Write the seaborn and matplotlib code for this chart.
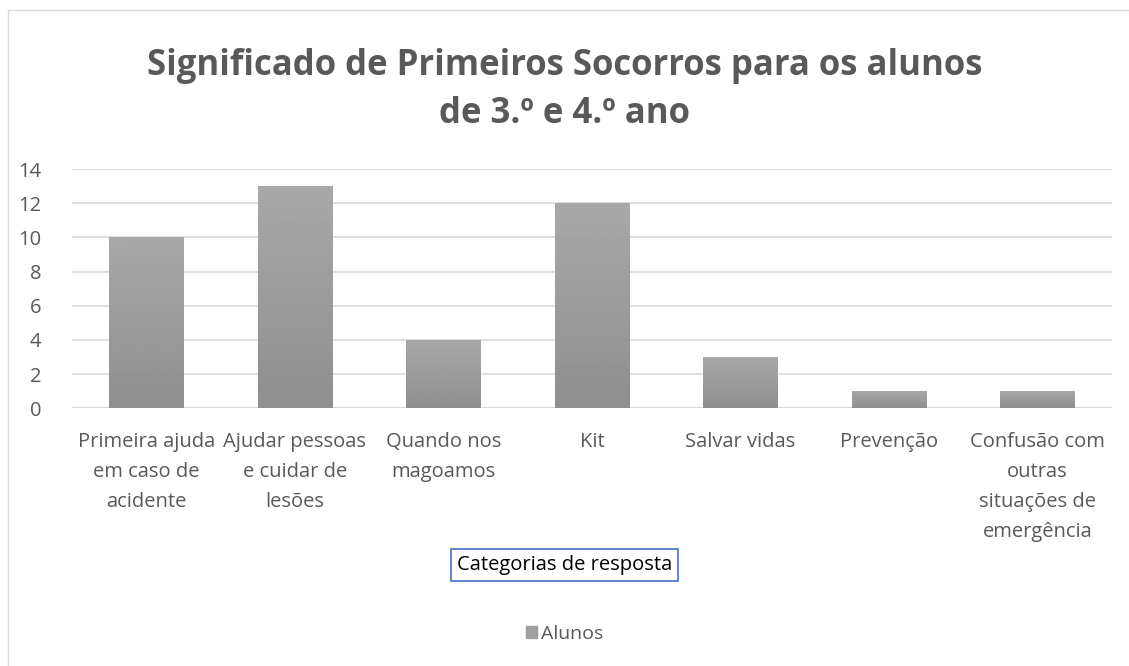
import matplotlib
matplotlib.use('Agg')
import matplotlib.pyplot as plt
from matplotlib.patches import Rectangle, Patch
import seaborn as sns
import numpy as np
import pandas as pd

categorias = ["Primeira ajuda\nem caso de\nacidente", "Ajudar pessoas\ne cuidar de\nlesões",
              "Quando nos\nmagoamos", "Kit", "Salvar vidas", "Prevenção",
              "Confusão com\noutras\nsituações de\nemergência"]
alunos = [10, 13, 4, 12, 3, 1, 1]
titulo = "Significado de Primeiros Socorros para os alunos\nde 3.º e 4.º ano"

df = pd.DataFrame({"cat": categorias, "Alunos": alunos})

sns.set_style("white")
plt.rcParams['font.family'] = ['Open Sans', 'DejaVu Sans']
txt = '#595959'

fig = plt.figure(figsize=(11.29, 6.66), dpi=100)
ax = fig.add_axes([0.0638, 0.387, 0.921, 0.359])

sns.barplot(data=df, x="cat", y="Alunos", color='#a0a0a0', width=0.5, ax=ax,
            edgecolor='none', saturation=1, zorder=3)

# gradient fill like the original (lighter top, darker bottom)
grad = np.linspace(0.66, 0.56, 100).reshape(-1, 1)
for p in ax.patches:
    x0, y0, w, h = p.get_x(), p.get_y(), p.get_width(), p.get_height()
    im = ax.imshow(grad, cmap='gray', vmin=0, vmax=1, aspect='auto',
                   extent=[x0, x0 + w, y0, y0 + h], origin='upper', zorder=4)
    im.set_clip_path(p)

ax.set_xlim(-0.5, len(categorias) - 0.5)
ax.set_ylim(0, 14)
ax.set_yticks(range(0, 15, 2))
ax.yaxis.grid(True, color='#d9d9d9', lw=1.2, zorder=0)
for s in ax.spines.values():
    s.set_visible(False)
ax.axhline(0, color='#d9d9d9', lw=1.2, zorder=1)
ax.tick_params(axis='both', length=0, labelsize=14.5, labelcolor=txt)
ax.tick_params(axis='y', pad=22)
ax.tick_params(axis='x', pad=17)
ax.set_xlabel("")
ax.set_ylabel("")
for lab in ax.get_xticklabels():
    lab.set_horizontalalignment('center')
    lab.set_linespacing(1.68)

fig.text(0.5, 0.865, titulo, ha='center', va='center', fontsize=25,
         fontweight='bold', color=txt, linespacing=1.45)

fig.text(0.5, 0.152, "Categorias de resposta", ha='center', va='center',
         fontsize=14.5, color='black',
         bbox=dict(boxstyle='square,pad=0.3', fc='white', ec='#4472c4', lw=1.2))

fig.legend(handles=[Patch(color='#a0a0a0', label='Alunos')], loc='center',
           bbox_to_anchor=(0.5, 0.048), frameon=False, fontsize=14,
           handlelength=0.6, handleheight=0.6, handletextpad=0.2, labelcolor=txt)

fig.patches.append(Rectangle((0.007, -0.01), 1.0, 0.995, transform=fig.transFigure,
                             fill=False, ec='#d9d9d9', lw=1))

fig.savefig("out.png", dpi=100)
